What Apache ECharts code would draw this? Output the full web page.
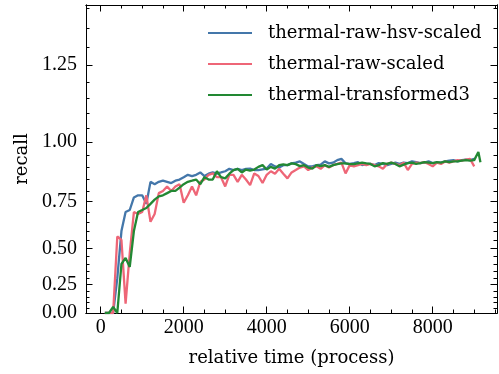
<!DOCTYPE html>
<html>
<head>
<meta charset="utf-8">
<script src="https://cdn.jsdelivr.net/npm/echarts@6/dist/echarts.min.js"></script>
<style>
html,body{margin:0;padding:0;background:#fff;}
#chart{width:499px;height:374px;}
</style>
</head>
<body>
<div id="chart"></div>
<script>
// ---- data ----
const time = [100,200,300,400,500,600,700,800,900,1000,
  1100,1200,1300,1400,1500,1600,1700,1800,1900,2000,
  2100,2200,2300,2400,2500,2600,2700,2800,2900,3000,
  3100,3200,3300,3400,3500,3600,3700,3800,3900,4000,
  4100,4200,4300,4400,4500,4600,4700,4800,4900,5000,
  5100,5200,5300,5400,5500,5600,5700,5800,5900,6000,
  6100,6200,6300,6400,6500,6600,6700,6800,6900,7000,
  7100,7200,7300,7400,7500,7600,7700,7800,7900,8000,
  8100,8200,8300,8400,8500,8600,8700,8800,8900,9000];

const hsvScaled = [0,0,0,0.30,0.60,0.70,0.71,0.77,0.78,0.78,
  0.74,0.84,0.83,0.84,0.845,0.84,0.835,0.845,0.85,0.86,
  0.87,0.865,0.87,0.88,0.865,0.875,0.88,0.875,0.88,0.885,
  0.895,0.89,0.895,0.89,0.895,0.896,0.89,0.89,0.893,0.896,
  0.915,0.905,0.90,0.91,0.91,0.917,0.92,0.925,0.915,0.905,
  0.905,0.91,0.912,0.925,0.917,0.92,0.93,0.935,0.917,0.915,
  0.918,0.922,0.91,0.915,0.915,0.91,0.918,0.915,0.91,0.915,
  0.92,0.915,0.92,0.918,0.925,0.922,0.918,0.92,0.925,0.918,
  0.92,0.92,0.925,0.928,0.93,0.925,0.93,0.932,0.93,0.935];

const rawScaled = [0,0,0,0.57,0.55,0.09,0.47,0.70,0.69,0.70,
  0.78,0.65,0.69,0.79,0.80,0.82,0.80,0.82,0.83,0.745,
  0.78,0.82,0.78,0.84,0.85,0.87,0.876,0.86,0.86,0.82,
  0.87,0.87,0.84,0.87,0.85,0.826,0.876,0.865,0.835,0.87,
  0.885,0.875,0.895,0.875,0.855,0.88,0.89,0.90,0.905,0.89,
  0.90,0.905,0.895,0.91,0.90,0.91,0.915,0.92,0.876,0.91,
  0.905,0.91,0.915,0.91,0.915,0.91,0.905,0.895,0.915,0.92,
  0.915,0.91,0.92,0.89,0.915,0.92,0.918,0.922,0.915,0.905,
  0.92,0.915,0.925,0.92,0.925,0.93,0.928,0.932,0.935,0.905];

const transformed3 = [0,0,0.06,0,0.40,0.44,0.38,0.60,0.70,0.71,
  0.72,0.74,0.76,0.775,0.78,0.79,0.80,0.80,0.815,0.83,
  0.84,0.845,0.85,0.83,0.86,0.85,0.85,0.885,0.86,0.855,
  0.875,0.89,0.895,0.88,0.892,0.888,0.892,0.903,0.91,0.892,
  0.903,0.896,0.91,0.913,0.91,0.917,0.914,0.906,0.91,0.90,
  0.896,0.91,0.906,0.91,0.903,0.91,0.914,0.917,0.917,0.914,
  0.914,0.917,0.92,0.917,0.915,0.905,0.91,0.918,0.915,0.92,
  0.915,0.905,0.912,0.918,0.92,0.915,0.918,0.922,0.92,0.918,
  0.922,0.92,0.925,0.922,0.925,0.925,0.928,0.93,0.928,0.93];
const transformed3TailTime = [9100,9150];
const transformed3Tail = [0.962,0.922];

const seriesNames = ['thermal-raw-hsv-scaled','thermal-raw-scaled','thermal-transformed3'];
const seriesColors = ['#4477AA','#EE6677','#228833'];

const xMajorTicks = [0,2000,4000,6000,8000];
const xMinorTicks = [500,1000,1500,2500,3000,3500,4500,5000,5500,6500,7000,7500,8500,9000,9500];
const yMajorTicks = [0,0.25,0.5,0.75,1.0,1.25];
const yMinorTicks = [0.05,0.1,0.15,0.2,0.3,0.35,0.4,0.45,0.55,0.6,0.65,0.7,0.8,0.85,0.9,0.95,1.05,1.1,1.15,1.2,1.3,1.35,1.4];
const xRange = [-354, 9549];
const yRange = [0, 1.409];

// ---- y axis uses an exponential (function) scale: position ~ exp(recall) ----
const fwd = v => Math.exp(v);
const inv = v => Math.log(v);

function pairs(xs, ys){ return xs.map((x,i)=>[x, fwd(ys[i])]); }

const NUMFONT = 'Liberation Serif';
const TXTFONT = 'DejaVu Serif';
const black = '#000';

function xAxisDef(pos, ticks, len, labels){
  return {
    type:'value', position:pos, min:xRange[0], max:xRange[1],
    axisLine:{show:true, onZero:false, lineStyle:{color:black,width:1}},
    axisTick:{show:true, inside:true, length:len, customValues:ticks, lineStyle:{color:black,width:1}},
    axisLabel:{show:labels, customValues:ticks, color:black, fontFamily:NUMFONT, fontSize:20, margin:5,
      formatter: v => String(Math.round(v))},
    splitLine:{show:false}
  };
}
function yAxisDef(pos, ticks, len, labels){
  return {
    type:'value', position:pos, min:fwd(yRange[0]), max:fwd(yRange[1]),
    axisLine:{show:true, onZero:false, lineStyle:{color:black,width:1}},
    axisTick:{show:true, inside:true, length:len, customValues:ticks.map(fwd), lineStyle:{color:black,width:1}},
    axisLabel:{show:labels, customValues:ticks.map(fwd), color:black, fontFamily:NUMFONT, fontSize:20, margin:9,
      formatter: v => inv(v).toFixed(2)},
    splitLine:{show:false}
  };
}

const xMain = xAxisDef('bottom', xMajorTicks, 6.5, true);
xMain.name = 'relative time (process)';
xMain.nameLocation = 'middle';
xMain.nameGap = 36;
xMain.nameTextStyle = {color:black, fontFamily:TXTFONT, fontSize:18};

const yMain = yAxisDef('left', yMajorTicks, 6.5, true);
yMain.name = 'recall';
yMain.nameLocation = 'middle';
yMain.nameGap = 43;
yMain.nameTextStyle = {color:black, fontFamily:TXTFONT, fontSize:18};

const chart = echarts.init(document.getElementById('chart'), null, {renderer:'canvas'});
chart.setOption({
  animation:false,
  backgroundColor:'#fff',
  grid:{left:86, right:2, top:5, bottom:61, containLabel:false},
  legend:{
    orient:'vertical', left:208, top:23, padding:0, icon:'rect',
    itemWidth:44, itemHeight:2, itemGap:11,
    textStyle:{color:black, fontFamily:TXTFONT, fontSize:18, lineHeight:20, padding:[0,0,0,11]},
    data:seriesNames
  },
  xAxis:[
    xMain,
    xAxisDef('bottom', xMinorTicks, 3.5, false),
    xAxisDef('top', xMajorTicks, 6.5, false),
    xAxisDef('top', xMinorTicks, 3.5, false)
  ],
  yAxis:[
    yMain,
    yAxisDef('left', yMinorTicks, 3.5, false),
    yAxisDef('right', yMajorTicks, 6.5, false),
    yAxisDef('right', yMinorTicks, 3.5, false)
  ],
  series:[
    {name:seriesNames[0], type:'line', xAxisIndex:0, yAxisIndex:0, symbol:'none',
     data:pairs(time, hsvScaled), lineStyle:{color:seriesColors[0], width:2.3}, itemStyle:{color:seriesColors[0]}},
    {name:seriesNames[1], type:'line', xAxisIndex:0, yAxisIndex:0, symbol:'none',
     data:pairs(time, rawScaled), lineStyle:{color:seriesColors[1], width:2.3}, itemStyle:{color:seriesColors[1]}},
    {name:seriesNames[2], type:'line', xAxisIndex:0, yAxisIndex:0, symbol:'none',
     data:pairs(time.concat(transformed3TailTime), transformed3.concat(transformed3Tail)),
     lineStyle:{color:seriesColors[2], width:2.3}, itemStyle:{color:seriesColors[2]}}
  ]
});
</script>
</body>
</html>
